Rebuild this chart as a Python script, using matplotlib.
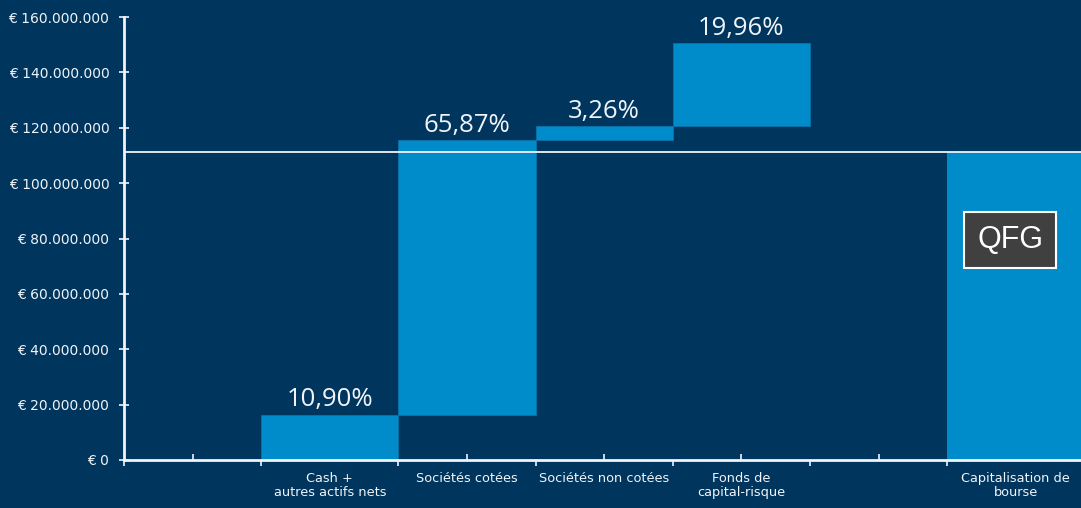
import matplotlib.pyplot as plt
import numpy as np
from matplotlib.ticker import FuncFormatter, MultipleLocator

# waterfall segments (EUR)
categories = ["", "Cash +\nautres actifs nets", "Sociétés cotées",
              "Sociétés non cotées", "Fonds de\ncapital-risque", "",
              "Capitalisation de\nbourse"]
segments = [16.4e6, 99.2e6, 4.9e6, 30.1e6]
pct_labels = ["10,90%", "65,87%", "3,26%", "19,96%"]
market_cap = 111.2e6

bg = "#00355E"
bar_col = "#008BCB"
fg = "#F0F4F8"

fig = plt.figure(figsize=(10.81, 5.08), dpi=100, facecolor=bg)
ax = fig.add_axes([0.1147, 0.0945, 0.8884, 0.872], facecolor=bg)

x = np.arange(len(categories))
bottoms = np.concatenate([[0], np.cumsum(segments)[:-1]])
seg_x = x[1:5]
ax.bar(seg_x, segments, bottom=bottoms, width=1.0, color=bar_col,
       edgecolor="#0A72AA", linewidth=0.6, zorder=2)
ax.bar(x[6], market_cap, width=1.0, color=bar_col, zorder=2)

for xi, b, s, lab in zip(seg_x, bottoms, segments, pct_labels):
    ax.annotate(lab, (xi, b + s), xytext=(0, 6), textcoords="offset points",
                ha="center", va="baseline", color=fg, fontsize=18.5,
                family="Open Sans")

# market cap reference line
ax.axhline(market_cap, color=fg, lw=1.3, zorder=3)

# QFG tag
ax.text(x[6] - 0.04, 79.5e6, "QFG", ha="center", va="center", color="white",
        fontsize=22, family="Liberation Sans",
        bbox=dict(boxstyle="square,pad=0.42", fc="#404040", ec="white", lw=1.5),
        zorder=4)

ax.set_xlim(-0.5, 6.5)
ax.set_ylim(0, 160e6)
ax.yaxis.set_major_locator(MultipleLocator(20e6))
ax.yaxis.set_major_formatter(FuncFormatter(
    lambda v, p: "€ " + f"{int(v):,}".replace(",", ".")))

ax.set_xticks(x - 0.5)
ax.set_xticklabels([])
ax.set_xticks(x, minor=True)
ax.set_xticklabels(categories, minor=True)

for side in ["top", "right"]:
    ax.spines[side].set_visible(False)
for side in ["left", "bottom"]:
    ax.spines[side].set_color(fg)
    ax.spines[side].set_linewidth(2)
    ax.spines[side].set_zorder(5)

ax.tick_params(axis="y", colors=fg, labelsize=10, direction="inout",
               length=7, width=1.2, pad=7)
ax.tick_params(axis="x", which="major", colors=fg, direction="out",
               length=4, width=1.2)
ax.tick_params(axis="x", which="minor", colors=fg, direction="in",
               length=4, width=1.2, labelsize=9.3, pad=9)
for t in ax.get_xticklabels(minor=True):
    t.set_linespacing(1.1)

fig.savefig("out.png", dpi=100, facecolor=bg)
